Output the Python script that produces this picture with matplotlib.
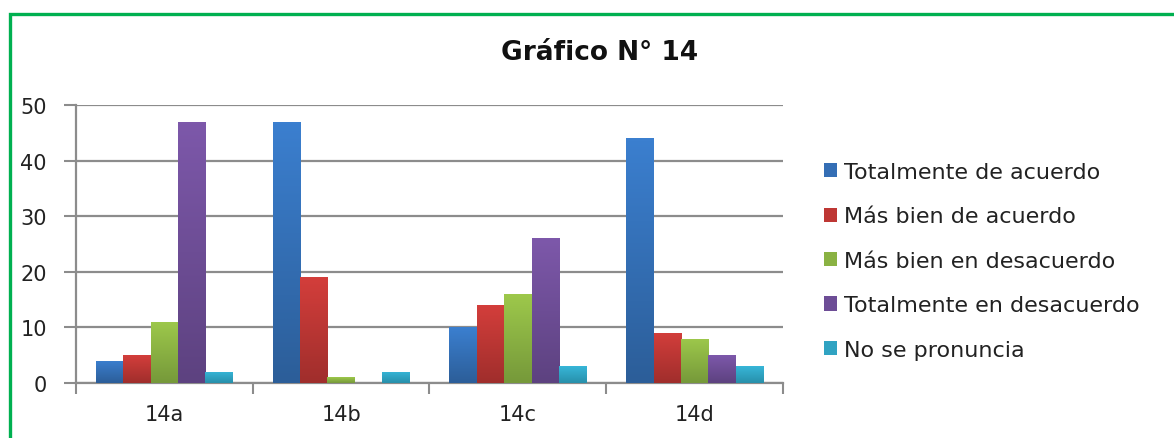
import numpy as np
import matplotlib
matplotlib.use("Agg")
import matplotlib.pyplot as plt
from matplotlib.patches import Rectangle, Patch
from matplotlib.colors import LinearSegmentedColormap

categories = ["14a", "14b", "14c", "14d"]
series_names = ["Totalmente de acuerdo", "Más bien de acuerdo", "Más bien en desacuerdo",
                "Totalmente en desacuerdo", "No se pronuncia"]
totalmente_acuerdo = [4, 47, 10, 44]
mas_bien_acuerdo = [5, 19, 14, 9]
mas_bien_desacuerdo = [11, 1, 16, 8]
totalmente_desacuerdo = [47, 0, 26, 5]
no_se_pronuncia = [2, 2, 3, 3]
series_values = [totalmente_acuerdo, mas_bien_acuerdo, mas_bien_desacuerdo,
                 totalmente_desacuerdo, no_se_pronuncia]
y_ticks = [0, 10, 20, 30, 40, 50]
title = "Gráfico N° 14"

top_colors = ["#3B7FCF", "#D33E3B", "#9DC84B", "#7D58AA", "#37B6D8"]
bot_colors = ["#2C5E99", "#A02E2C", "#76993A", "#5D4280", "#2890AB"]
mid_colors = ["#346EB5", "#BE3734", "#8AB243", "#6D4D96", "#30A3C2"]

plt.rcParams['font.family'] = ['DejaVu Sans']
fig = plt.figure(figsize=(11.74, 4.39), dpi=100)
W, H = 1174, 439
ax = fig.add_axes([76 / W, 1 - 384 / H, (783 - 76) / W, (384 - 106) / H])

n = len(series_names)
group = 0.775
bw = group / n
x = np.arange(len(categories))
for i, (vals, tc, bc) in enumerate(zip(series_values, top_colors, bot_colors)):
    offs = x - group / 2 + bw * (i + 0.5)
    bars = ax.bar(offs, vals, width=bw, facecolor="none", edgecolor="none", zorder=3)
    cmap = LinearSegmentedColormap.from_list("g%d" % i, [bc, tc])
    grad = np.linspace(0, 1, 64).reshape(-1, 1)
    for b in bars:
        bx, by, bwid, bh = b.get_x(), b.get_y(), b.get_width(), b.get_height()
        if bh <= 0:
            continue
        im = ax.imshow(grad, cmap=cmap, origin="lower", aspect="auto",
                       extent=[bx, bx + bwid, by, by + bh], zorder=3, interpolation="bilinear")
        im.set_clip_path(b)

ax.set_xlim(-0.5, len(categories) - 0.5)
ax.set_ylim(0, 50)
ax.set_yticks(y_ticks)
ax.set_yticklabels([str(t) for t in y_ticks], fontsize=15, color="#222222")
ax.grid(axis="y", color="#8C8C8C", linewidth=1.6, zorder=0)
ax.set_axisbelow(True)
ax.set_xticks(np.arange(len(categories) + 1) - 0.5)
ax.set_xticklabels([])
ax.set_xticks(x, minor=True)
ax.set_xticklabels(categories, minor=True, fontsize=15, color="#222222")
ax.tick_params(axis="x", which="major", length=8, width=1.5, color="#8C8C8C", direction="out")
ax.tick_params(axis="x", which="minor", length=0, pad=15)
ax.tick_params(axis="y", length=9, width=1.5, color="#8C8C8C", direction="out", pad=12)
for s in ["top", "right"]:
    ax.spines[s].set_visible(False)
for s in ["left", "bottom"]:
    ax.spines[s].set_color("#8C8C8C")
    ax.spines[s].set_linewidth(1.6)

fig.text(600 / W, 1 - 53 / H, title, ha="center", va="center", fontsize=19,
         fontweight="bold", color="#111111")

handles = [Patch(facecolor=c, edgecolor="none") for c in mid_colors]
fig.legend(handles, series_names, loc="upper left", bbox_to_anchor=(804 / W, 1 - 143 / H),
           frameon=False, fontsize=16, handlelength=0.6, handleheight=0.6,
           handletextpad=0.3, labelspacing=1.1, labelcolor="#222222")

border = Rectangle((9.5 / W, -0.2), 2, 1 - 14.5 / H + 0.2, transform=fig.transFigure,
                   fill=False, edgecolor="#00B050", linewidth=2.4, clip_on=False)
fig.patches.append(border)

fig.savefig("out.png", dpi=100)
